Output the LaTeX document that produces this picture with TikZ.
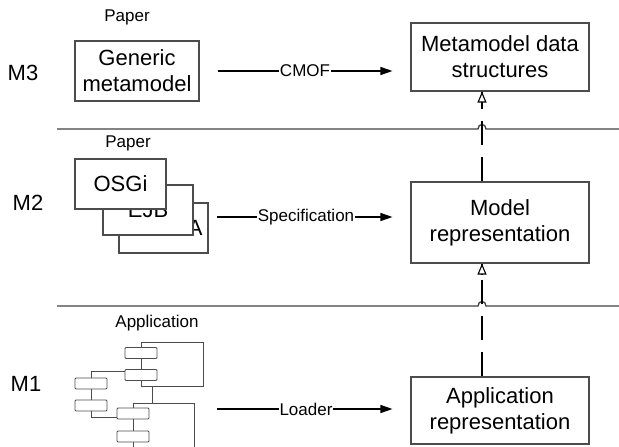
\documentclass[tikz,border=0pt]{standalone}
\usepackage{fontspec}
\setmainfont{Liberation Sans}
\usetikzlibrary{arrows.meta}

\begin{document}
\begin{tikzpicture}[x=1pt,y=-1pt]
  \tikzset{model box/.style={draw=black!70,line width=1.1pt,fill=white,align=center,inner sep=0pt,font=\fontsize{22}{26}\selectfont},
    small label/.style={font=\fontsize{17}{20}\selectfont},
    level label/.style={font=\fontsize{22}{26}\selectfont},
    comp/.style={draw=black!70,line width=0.9pt,rounded corners=1pt,minimum width=32pt,minimum height=11pt,inner sep=0pt},
    wire/.style={draw=black!70,line width=0.9pt},
    flow/.style={line width=1.1pt,-{Triangle[length=12pt,width=8pt]}},
    realize/.style={line width=1.1pt,dash pattern=on 24pt off 12pt,
      postaction={draw,solid,line width=1.1pt,shorten <=#1,-{Triangle[open,fill=white,length=11pt,width=9pt]}}},
    sep/.style={line width=1.3pt,draw=black!75}}
  \useasboundingbox (0,0) rectangle (619,447);

  % layer separators, jumping the dashed line
  \draw[sep] (57,129) -- (478,129) .. controls (478,123) and (486,123) .. (486,129) -- (619,129);
  \draw[sep] (57,306) -- (478,306) .. controls (478,300) and (486,300) .. (486,306) -- (619,306);

  \node[level label] (m3) at (23,73) {M3};
  \node[level label] (m2) at (28,203) {M2};
  \node[level label] (m1) at (26,384) {M1};

  \node[small label] (paper3) at (127,17) {Paper};
  \node[small label] (paper2) at (128,143) {Paper};
  \node[small label] (appl) at (157,323) {Application};

  \node[model box,minimum width=124pt,minimum height=60pt] (gm) at (137,71) {Generic\\metamodel};
  \node[model box,minimum width=89pt,minimum height=50pt] (corba) at (163.5,228) {CORBA};
  \node[model box,minimum width=90pt,minimum height=50pt] (ejb) at (148,210) {EJB};
  \node[model box,minimum width=91pt,minimum height=50pt] (osgi) at (120.5,184) {OSGi};

  \node[model box,minimum width=178pt,minimum height=68pt] (mds) at (500,57) {Metamodel data\\structures};
  \node[model box,minimum width=178pt,minimum height=81pt] (mr) at (500,222.5) {Model\\representation};
  \node[model box,minimum width=178pt,minimum height=67pt] (ar) at (500,410.5) {Application\\representation};

  % application components
  \node[comp] (c1) at (141,353) {};
  \node[comp] (c2) at (141,375) {};
  \node[comp] (c3) at (91,383.5) {};
  \node[comp] (c4) at (91,405.5) {};
  \node[comp] (c5) at (133,413.5) {};
  \node[comp] (c6) at (133,436.5) {};
  \draw[wire] (c1.north) |- (203,342) |- (141,386) -- (c2.south);
  \draw[wire] (c1.south) -- (c2.north);
  \draw[wire] ([yshift=4pt]c2.west) -| (c3.north);
  \draw[wire] (c3.south) -- (c4.north);
  \draw[wire] (c4.south) |- ([yshift=-3.5pt]c5.west);
  \draw[wire] (152,386) -- (152,403);
  \draw[wire] (c5.north) |- (194,403) -- (194,447);
  \draw[wire] (c5.south) -- (c6.north);
  \draw[wire] (c6.south) -- (133,447);

  \coordinate (spec) at (217,217);
  \coordinate (load) at (217,409);
  \coordinate (rail) at (482,0);

  \draw[flow,shorten <=18pt,shorten >=18pt] (gm.east) -- node[small label,fill=white,inner xsep=1pt,inner ysep=0pt] {CMOF} (gm.east -| mds.west);
  \draw[flow,shorten >=18pt] (spec) -- node[pos=.46,small label,fill=white,inner xsep=1pt,inner ysep=0pt] {Specification} (spec -| mr.west);
  \draw[flow,shorten >=18pt] (load) -- node[pos=.46,small label,fill=white,inner xsep=1pt,inner ysep=0pt] {Loader} (load -| ar.west);

  \draw[realize=74pt] (mr.north -| rail) -- (mds.south -| rail);
  \draw[realize=102pt] (ar.north -| rail) -- (mr.south -| rail);
\end{tikzpicture}
\end{document}
